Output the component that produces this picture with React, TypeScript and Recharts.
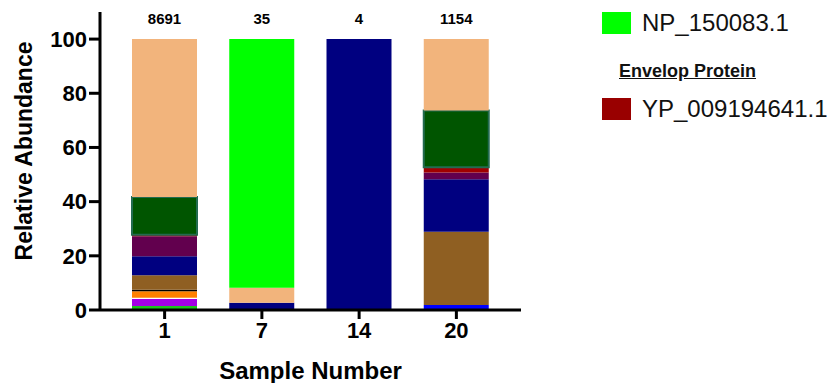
import React from 'react';
import { BarChart, Bar, XAxis, YAxis, LabelList } from 'recharts';

const samples = ['1', '7', '14', '20'];
const readCounts = ['8691', '35', '4', '1154'];

// stacked from the bottom up
const limeGreen = [1.5, 0, 0, 0];
const blue = [0, 0, 0, 1.8];
const violet = [2.6, 0, 0, 0];
const white = [0.4, 0, 0, 0];
const orange = [2.4, 0, 0, 0];
const black = [0.6, 0, 0, 0];
const brown = [5.3, 0, 0, 27.1];
const navy = [7.0, 2.7, 100, 19.4];
const purple = [7.4, 0, 0, 2.5];
const envelop = [0.6, 0, 0, 1.9];
const darkGreen = [13.9, 0, 0, 20.9];
const peach = [58.3, 5.5, 0, 26.4];
const np150083 = [0, 91.8, 0, 0];

const yTicks = [0, 20, 40, 60, 80, 100];

const seriesList = [
    { key: 'limeGreen', values: limeGreen, fill: '#1fc41f' },
    { key: 'blue', values: blue, fill: '#0000ff' },
    { key: 'violet', values: violet, fill: '#a400e6' },
    { key: 'white', values: white, fill: '#ffffff' },
    { key: 'orange', values: orange, fill: '#ff8000' },
    { key: 'black', values: black, fill: '#000000' },
    { key: 'brown', values: brown, fill: '#8f5f22' },
    { key: 'navy', values: navy, fill: '#000080' },
    { key: 'purple', values: purple, fill: '#62004e' },
    { key: 'envelop', values: envelop, fill: '#a00000' },
    { key: 'darkGreen', values: darkGreen, fill: '#005500', stroke: '#236b50' },
    { key: 'peach', values: peach, fill: '#f2b47c' },
    { key: 'np150083', values: np150083, fill: '#00ff00' },
];

// index of the top-most non-empty segment of each bar
const topSeries = samples.map((_, i) => {
    let top = 0;
    seriesList.forEach((sr, idx) => {
        if (sr.values[i] > 0) top = idx;
    });
    return top;
});

const data = samples.map((s, i) => {
    const row: Record<string, string | number> = { sample: s, count: readCounts[i] };
    seriesList.forEach((sr) => {
        row[sr.key] = sr.values[i];
    });
    return row;
});

const font = 'Arial, "Liberation Sans", sans-serif';

const makeCountLabel = (seriesIdx: number) => (props: any) => {
    const { x, y, width, value } = props;
    const sampleIdx = readCounts.indexOf(String(value));
    if (sampleIdx < 0 || topSeries[sampleIdx] !== seriesIdx) return null;
    return (
        <text
            x={x + width / 2}
            y={y - 15}
            textAnchor="middle"
            fontFamily={font}
            fontWeight="bold"
            fontSize={15}
            fill="#000"
        >
            {value}
        </text>
    );
};

const YTitle = (props: any) => {
    const { viewBox } = props;
    const cy = viewBox.y + viewBox.height / 2 - 10;
    return (
        <text
            x={32}
            y={cy}
            transform={`rotate(-90, 32, ${cy})`}
            textAnchor="middle"
            fontFamily={font}
            fontWeight="bold"
            fontSize={23}
            fill="#000"
        >
            Relative Abundance
        </text>
    );
};

const App: React.FC = () => {
    return (
        <div style={{ position: 'absolute', left: 0, top: 0, width: 827, height: 383, background: '#fff' }}>
            <BarChart
                width={560}
                height={383}
                data={data}
                margin={{ top: 12, right: 39, bottom: 0, left: 0 }}
                barSize={65}
            >
                <XAxis
                    dataKey="sample"
                    height={73}
                    padding={{ left: 16, right: 16 }}
                    axisLine={{ stroke: '#000', strokeWidth: 3 }}
                    tickLine={{ stroke: '#000', strokeWidth: 3 }}
                    tickSize={9}
                    tickMargin={3}
                    tick={{ fill: '#000', fontSize: 22, fontWeight: 'bold', fontFamily: font }}
                    label={{
                        value: 'Sample Number',
                        position: 'insideBottom',
                        offset: 4,
                        fill: '#000',
                        fontSize: 24,
                        fontWeight: 'bold',
                        fontFamily: font,
                    }}
                />
                <YAxis
                    width={100}
                    domain={[0, 110]}
                    ticks={yTicks}
                    axisLine={{ stroke: '#000', strokeWidth: 3 }}
                    tickLine={{ stroke: '#000', strokeWidth: 3 }}
                    tickSize={11}
                    tickMargin={2}
                    tick={{ fill: '#000', fontSize: 22, fontWeight: 'bold', fontFamily: font }}
                    label={<YTitle />}
                />
                {seriesList.map((sr, idx) => (
                    <Bar
                        key={sr.key}
                        dataKey={sr.key}
                        stackId="a"
                        fill={sr.fill}
                        stroke={sr.stroke}
                        strokeWidth={sr.stroke ? 2 : 0}
                        isAnimationActive={false}
                    >
                        <LabelList dataKey="count" content={makeCountLabel(idx)} />
                    </Bar>
                ))}
            </BarChart>

            <div style={{ position: 'absolute', left: 602, top: 12, width: 29, height: 22, background: '#00ff00' }} />
            <div style={{ position: 'absolute', left: 642, top: 8, fontFamily: font, fontSize: 24, color: '#111', lineHeight: '30px' }}>
                NP_150083.1
            </div>
            <div
                style={{
                    position: 'absolute',
                    left: 619,
                    top: 60,
                    fontFamily: font,
                    fontSize: 18,
                    fontWeight: 'bold',
                    textDecoration: 'underline',
                    color: '#111',
                    lineHeight: '22px',
                }}
            >
                Envelop Protein
            </div>
            <div style={{ position: 'absolute', left: 602, top: 98, width: 29, height: 22, background: '#990000' }} />
            <div style={{ position: 'absolute', left: 642, top: 94, fontFamily: font, fontSize: 24, color: '#111', lineHeight: '30px' }}>
                YP_009194641.1
            </div>
        </div>
    );
};

export default App;
